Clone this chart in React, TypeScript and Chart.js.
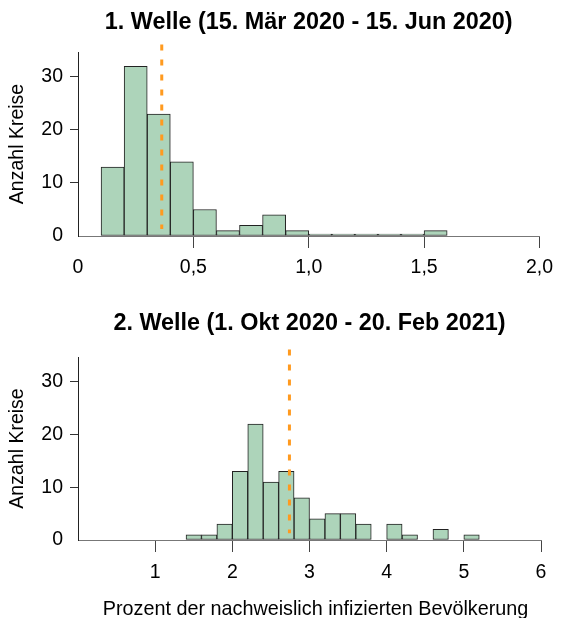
import React, { useEffect, useRef } from "react";
import { Chart, registerables } from "chart.js";

Chart.register(...registerables);

const FONT = "'Liberation Sans', Arial, Helvetica, sans-serif";

// ---- Wave 1 ----
const wave1Title = "1. Welle (15. Mär 2020 - 15. Jun 2020)";
const wave1BinStarts = [0.1, 0.2, 0.3, 0.4, 0.5, 0.6, 0.7, 0.8, 0.9, 1.0, 1.1, 1.2, 1.3, 1.4, 1.5];
const wave1Counts = [13, 32, 23, 14, 5, 1, 2, 4, 1, 0, 0, 0, 0, 0, 1];
const wave1BinWidth = 0.1;
const wave1Median = 0.363;
const wave1XTicks = [0, 0.5, 1.0, 1.5, 2.0];
const wave1XRange = [0, 2];

// ---- Wave 2 ----
const wave2Title = "2. Welle (1. Okt 2020 - 20. Feb 2021)";
const wave2BinStarts = [1.4, 1.6, 1.8, 2.0, 2.2, 2.4, 2.6, 2.8, 3.0, 3.2, 3.4, 3.6, 3.8, 4.0, 4.2, 4.4, 4.6, 4.8, 5.0];
const wave2Counts = [1, 1, 3, 13, 22, 11, 13, 8, 4, 5, 5, 3, 0, 3, 1, 0, 2, 0, 1];
const wave2BinWidth = 0.2;
const wave2Median = 2.74;
const wave2XTicks = [1, 2, 3, 4, 5, 6];
const wave2XRange = [0, 6];

const yTicks = [0, 10, 20, 30];
const yMax = 34.7;
const medianSpan = [36.1, 1.3];

const yLabel = "Anzahl Kreise";
const xLabel = "Prozent der nachweislich infizierten Bevölkerung";

const textPlugin = {
  id: "centerTitle",
  afterDraw(chart: any, _args: any, opts: any) {
    const { ctx, chartArea } = chart;
    const cx = (chartArea.left + chartArea.right) / 2;
    ctx.save();
    ctx.fillStyle = "#000";
    ctx.textAlign = "center";
    ctx.textBaseline = "middle";
    ctx.font = `bold 23.4px ${FONT}`;
    ctx.fillText(opts.text, cx, opts.y);
    if (opts.xTitle) {
      ctx.font = `19.8px ${FONT}`;
      ctx.textBaseline = "alphabetic";
      ctx.fillText(opts.xTitle, cx + 6, opts.xTitleY);
    }
    ctx.restore();
  },
};

type HistProps = {
  width: number;
  height: number;
  title: string;
  titleY: number;
  binStarts: number[];
  counts: number[];
  binWidth: number;
  median: number;
  xTicks: number[];
  xRange: number[];
  decimalComma: boolean;
  padTop: number;
  xScaleHeight: number;
  tickPad: number;
  xTitle: string;
  xTitleY: number;
  zeroLine: boolean;
};

function Histogram(p: HistProps) {
  const ref = useRef<HTMLCanvasElement | null>(null);
  useEffect(() => {
    if (!ref.current) return;
    const hideZero = (color: string) => (ctx: any) =>
      ctx.tick && ctx.tick.value === 0 ? "rgba(0,0,0,0)" : color;
    const chart = new Chart(ref.current, {
      type: "bar",
      data: {
        datasets: [
          {
            type: "line",
            data: [
              { x: p.median, y: medianSpan[0] },
              { x: p.median, y: medianSpan[1] },
            ],
            borderColor: "#FF9A1F",
            borderWidth: 3,
            borderDash: [6, 9],
            pointRadius: 0,
            clip: false,
            order: 0,
          } as any,
          {
            type: "bar",
            data: p.binStarts.map((s, i) => ({ x: s + p.binWidth / 2, y: p.counts[i] })),
            backgroundColor: "rgb(173,212,186)",
            borderColor: "#222",
            borderWidth: 1,
            borderSkipped: false,
            barPercentage: 1,
            categoryPercentage: 1,
            minBarLength: p.zeroLine ? 2 : 0,
            order: 1,
          } as any,
        ],
      },
      options: {
        responsive: false,
        animation: false,
        layout: { padding: { top: p.padTop, right: 20, left: 0, bottom: 0 } },
        plugins: {
          legend: { display: false },
          tooltip: { enabled: false },
          centerTitle: { text: p.title, y: p.titleY, xTitle: p.xTitle, xTitleY: p.xTitleY },
        } as any,
        scales: {
          x: {
            type: "linear",
            offset: false,
            min: p.xRange[0],
            max: p.xRange[1],
            afterBuildTicks: (s: any) => {
              s.ticks = p.xTicks.map((v) => ({ value: v }));
            },
            afterFit: (s: any) => {
              s.height = p.xScaleHeight;
            },
            grid: {
              offset: false,
              drawOnChartArea: false,
              drawTicks: true,
              tickLength: 12,
              color: hideZero("#444"),
            },
            border: { display: true, color: "#777", width: 1 },
            ticks: {
              padding: p.tickPad,
              color: "#000",
              font: { family: FONT, size: 19.5 },
              maxRotation: 0,
              autoSkip: false,
              callback: (v: any) =>
                p.decimalComma
                  ? v === 0
                    ? "0"
                    : Number(v).toFixed(1).replace(".", ",")
                  : String(v),
            },
          },
          y: {
            type: "linear",
            min: 0,
            max: yMax,
            afterBuildTicks: (s: any) => {
              s.ticks = yTicks.map((v) => ({ value: v }));
            },
            afterFit: (s: any) => {
              s.width = 78;
            },
            grid: {
              drawOnChartArea: false,
              drawTicks: true,
              tickLength: 8,
              color: hideZero("#333"),
            },
            border: { display: true, color: "#222", width: 1 },
            ticks: {
              padding: 7,
              color: "#000",
              font: { family: FONT, size: 19.5 },
            },
            title: {
              display: true,
              text: yLabel,
              color: "#000",
              font: { family: FONT, size: 19.5 },
              padding: { top: 6, bottom: 0 },
            },
          },
        },
      },
      plugins: [textPlugin as any],
    });
    return () => chart.destroy();
  }, []);
  return (
    <canvas
      ref={ref}
      width={p.width}
      height={p.height}
      style={{ display: "block", width: p.width, height: p.height }}
    />
  );
}

export default function App() {
  return (
    <div
      style={{
        position: "absolute",
        left: 0,
        top: 0,
        width: 561,
        height: 618,
        background: "#fff",
      }}
    >
      <Histogram
        width={561}
        height={300}
        title={wave1Title}
        titleY={23}
        binStarts={wave1BinStarts}
        counts={wave1Counts}
        binWidth={wave1BinWidth}
        median={wave1Median}
        xTicks={wave1XTicks}
        xRange={wave1XRange}
        decimalComma={true}
        padTop={52}
        xScaleHeight={64}
        tickPad={8}
        xTitle=""
        xTitleY={0}
        zeroLine={true}
      />
      <Histogram
        width={561}
        height={318}
        title={wave2Title}
        titleY={23.5}
        binStarts={wave2BinStarts}
        counts={wave2Counts}
        binWidth={wave2BinWidth}
        median={wave2Median}
        xTicks={wave2XTicks}
        xRange={wave2XRange}
        decimalComma={false}
        padTop={57}
        xScaleHeight={78}
        tickPad={9}
        xTitle={xLabel}
        xTitleY={315}
        zeroLine={false}
      />
    </div>
  );
}
